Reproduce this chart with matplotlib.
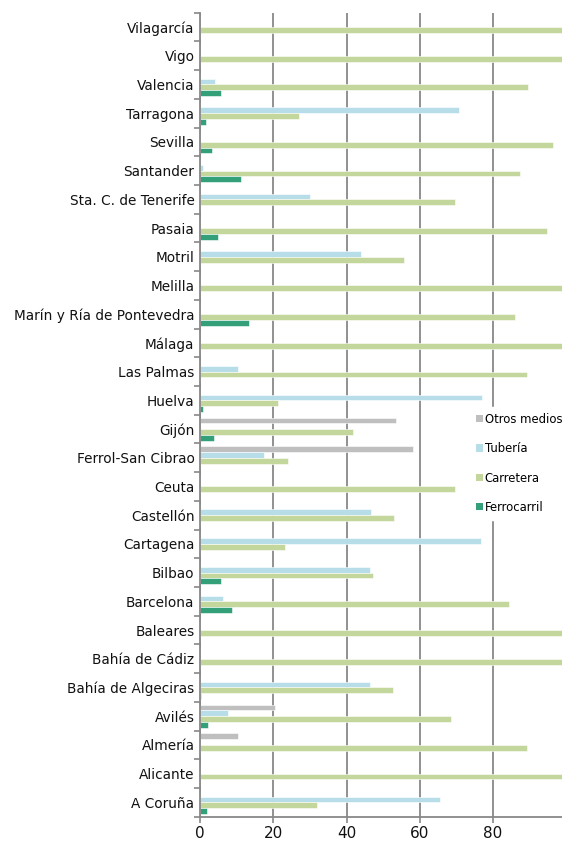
import matplotlib
matplotlib.use("Agg")
import matplotlib.pyplot as plt
from matplotlib.patches import Patch
import numpy as np

# ── 資料（由上而下）────────────────────────────────────────────
puertos = [
    "Vilagarcía", "Vigo", "Valencia", "Tarragona", "Sevilla", "Santander",
    "Sta. C. de Tenerife", "Pasaia", "Motril", "Melilla",
    "Marín y Ría de Pontevedra", "Málaga", "Las Palmas", "Huelva", "Gijón",
    "Ferrol-San Cibrao", "Ceuta", "Castellón", "Cartagena", "Bilbao",
    "Barcelona", "Baleares", "Bahía de Cádiz", "Bahía de Algeciras",
    "Avilés", "Almería", "Alicante", "A Coruña",
]

otros_medios = [0, 0, 0, 0, 0, 0, 0, 0, 0, 0, 0, 0, 0, 0, 53.6,
                58.0, 0, 0, 0, 0, 0, 0, 0, 0, 20.4, 10.5, 0, 0]
tuberia = [0, 0, 4.0, 70.7, 0, 0.7, 29.9, 0, 44.0, 0, 0, 0, 10.5, 77.1, 0,
           17.6, 0, 46.8, 76.6, 46.4, 6.4, 0, 0, 46.4, 7.6, 0, 0, 65.4]
carretera = [100, 100, 89.5, 27.0, 96.3, 87.3, 69.7, 94.8, 55.7, 100,
             86.1, 100, 89.2, 21.3, 41.8, 23.9, 69.5, 52.9, 23.1, 47.2,
             84.4, 100, 100, 52.7, 68.6, 89.2, 100, 31.9]
ferrocarril = [0, 0, 5.8, 1.7, 3.4, 11.3, 0, 4.9, 0, 0, 13.5, 0, 0, 0.9, 3.7,
               0, 0, 0, 0, 5.8, 8.6, 0, 0, 0.3, 2.3, 0, 0, 1.9]

series = [
    ("Otros medios", otros_medios, "#BFBFBF"),
    ("Tubería", tuberia, "#B7DEE8"),
    ("Carretera", carretera, "#C3D69B"),
    ("Ferrocarril", ferrocarril, "#33A07A"),
]

x_ticks = [0, 20, 40, 60, 80]

# ── 繪圖 ──────────────────────────────────────────────────────
plt.rcParams["font.family"] = ["DejaVu Sans"]
fig = plt.figure(figsize=(5.62, 8.42), dpi=100)
ax = fig.add_axes([200 / 562, 1 - 816.7 / 842, 1 - 200 / 562, (816.7 - 12.7) / 842])

y = np.arange(len(puertos))
h = 0.2
offsets = [-0.3, -0.1, 0.1, 0.3]
for (name, vals, color), off in zip(series, offsets):
    ax.barh(y + off, vals, height=h, color=color, edgecolor="white",
            linewidth=0.4, label=name, zorder=3)

ax.set_ylim(len(puertos) - 0.5, -0.5)
ax.set_xlim(0, 98.8)

ax.set_yticks(y)
ax.set_yticklabels(puertos, fontsize=9.8, color="#111111")
ax.set_yticks(np.arange(len(puertos) + 1) - 0.5, minor=True)
ax.tick_params(axis="y", which="major", length=0, pad=4)
ax.tick_params(axis="y", which="minor", length=4, width=1.2, color="#888888")

ax.set_xticks(x_ticks)
ax.set_xticklabels([str(t) for t in x_ticks], fontsize=11, color="#111111")
ax.tick_params(axis="x", length=4, width=1.2, color="#888888", pad=3)

ax.grid(axis="x", color="#888888", linewidth=1.3, zorder=1)
for s in ("top", "right"):
    ax.spines[s].set_visible(False)
for s in ("left", "bottom"):
    ax.spines[s].set_color("#888888")
    ax.spines[s].set_linewidth(1.3)
    ax.spines[s].set_zorder(4)

handles = [Patch(facecolor=c, edgecolor="none", label=n) for n, _, c in series]
leg = fig.legend(handles=handles, loc="upper left",
                 bbox_to_anchor=(470 / 562, 1 - 407 / 842),
                 fontsize=8.4, frameon=True, fancybox=False,
                 handlelength=0.6, handleheight=0.6, handletextpad=0.15,
                 labelspacing=1.4, borderpad=0.5, borderaxespad=0)
leg.get_frame().set_facecolor("white")
leg.get_frame().set_edgecolor("white")
leg.get_frame().set_alpha(1)

plt.savefig("out.png", dpi=100)
plt.close(fig)
